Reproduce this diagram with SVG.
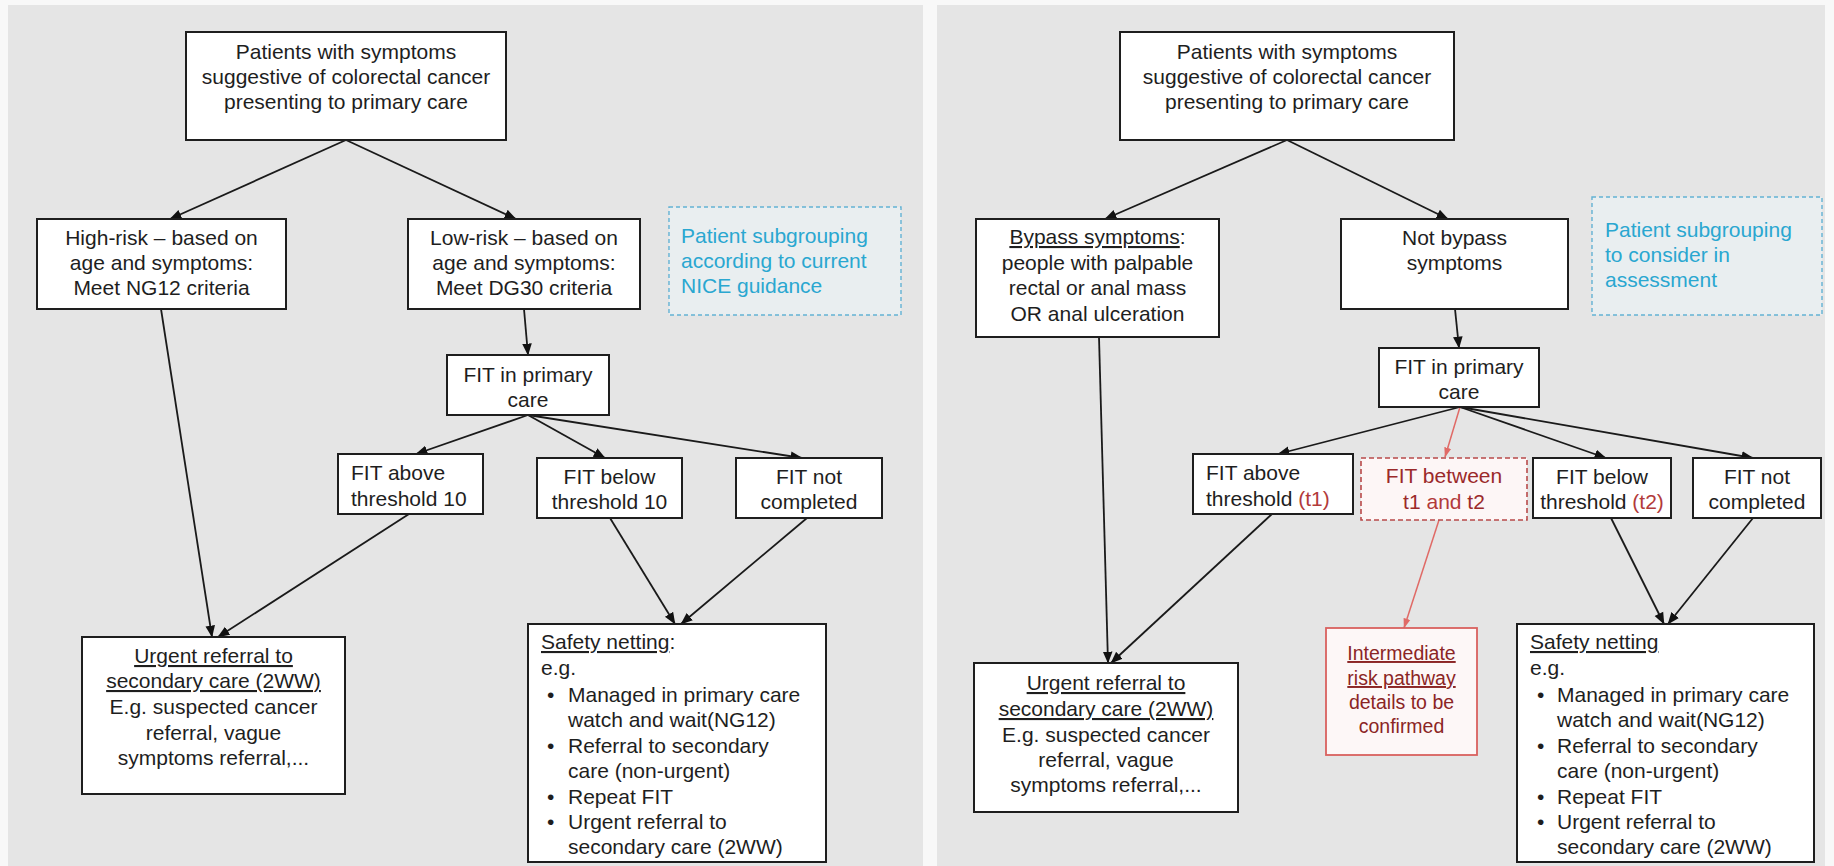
<svg xmlns="http://www.w3.org/2000/svg" width="1834" height="866" viewBox="0 0 1834 866">
  <style>
    text { font-family: "Liberation Sans", Arial, sans-serif; font-size: 21px; fill: #1e1e1e; }
    .c { text-anchor: middle; }
    .u { text-decoration: underline; }
    .box { fill: #ffffff; stroke: #1e1e1e; stroke-width: 2; }
    .note { fill: #e9eef0; stroke: #63b2d4; stroke-width: 1.4; stroke-dasharray: 4 3; }
    text.cy { fill: #2aa7d0; }
    .rbox { fill: #fdf6f6; stroke: #b84a4a; stroke-width: 1.6; stroke-dasharray: 5 3; }
    .ibox { fill: #fdf7f7; stroke: #d9605e; stroke-width: 1.8; }
    .red { fill: #9b2a2a; }
    .rt { fill: #b23a3a; }
    .ital { font-size: 19.5px; fill: #8b2525; }
    .link { fill: none; stroke: #1a1a1a; stroke-width: 1.8; marker-end: url(#ah); }
    .rlink { fill: none; stroke: #e06a66; stroke-width: 1.5; marker-end: url(#ahr); }
  </style>
  <defs>
    <marker id="ah" viewBox="0 0 10 10" refX="9.5" refY="5" markerWidth="12" markerHeight="12" markerUnits="userSpaceOnUse" orient="auto">
      <path d="M0,1 L10,5 L0,9 z" fill="#111111"/>
    </marker>
    <marker id="ahr" viewBox="0 0 10 10" refX="9.5" refY="5" markerWidth="10" markerHeight="10" markerUnits="userSpaceOnUse" orient="auto">
      <path d="M0,1.5 L10,5 L0,8.5 z" fill="#e06a66"/>
    </marker>
  </defs>

  <!-- page and the two panels -->
  <rect x="0" y="0" width="1834" height="866" fill="#f8f8f8"/>
  <rect id="panel-left" x="8" y="5" width="915" height="861" fill="#e5e5e5"/>
  <rect id="panel-right" x="937" y="5" width="888" height="861" fill="#e5e5e5"/>

  <!-- connectors -->
  <g id="connectors">
    <line class="link" x1="346" y1="140" x2="170" y2="219"/>
    <line class="link" x1="346" y1="140" x2="516" y2="219"/>
    <line class="link" x1="524" y1="309" x2="528" y2="355"/>
    <line class="link" x1="528" y1="415" x2="416" y2="454"/>
    <line class="link" x1="528" y1="415" x2="605" y2="458"/>
    <line class="link" x1="528" y1="415" x2="802" y2="458"/>
    <line class="link" x1="161" y1="309" x2="212" y2="637"/>
    <line class="link" x1="409" y1="514" x2="218" y2="637"/>
    <line class="link" x1="610" y1="518" x2="675" y2="624"/>
    <line class="link" x1="807" y1="518" x2="681" y2="624"/>

    <line class="link" x1="1287" y1="140" x2="1105" y2="219"/>
    <line class="link" x1="1287" y1="140" x2="1448" y2="219"/>
    <line class="link" x1="1455" y1="309" x2="1459" y2="348"/>
    <line class="link" x1="1460" y1="407" x2="1278" y2="454"/>
    <line class="rlink" x1="1460" y1="407" x2="1445" y2="457"/>
    <line class="link" x1="1460" y1="407" x2="1606" y2="458"/>
    <line class="link" x1="1460" y1="407" x2="1753" y2="458"/>
    <line class="link" x1="1099" y1="337" x2="1108" y2="663"/>
    <line class="link" x1="1272" y1="514" x2="1111" y2="663"/>
    <line class="rlink" x1="1439" y1="520" x2="1404" y2="628"/>
    <line class="link" x1="1611" y1="518" x2="1664" y2="624"/>
    <line class="link" x1="1753" y1="518" x2="1668" y2="624"/>
  </g>

  <!-- ===== left pathway ===== -->
  <g id="l-start">
    <rect class="box" x="186" y="32" width="320" height="108"/>
    <text class="c" x="346" y="59">Patients with symptoms</text>
    <text class="c" x="346" y="84">suggestive of colorectal cancer</text>
    <text class="c" x="346" y="109">presenting to primary care</text>
  </g>
  <g id="l-high-risk">
    <rect class="box" x="37" y="219" width="249" height="90"/>
    <text class="c" x="161.5" y="245">High-risk – based on</text>
    <text class="c" x="161.5" y="270">age and symptoms:</text>
    <text class="c" x="161.5" y="295">Meet NG12 criteria</text>
  </g>
  <g id="l-low-risk">
    <rect class="box" x="408" y="219" width="232" height="90"/>
    <text class="c" x="524" y="245">Low-risk – based on</text>
    <text class="c" x="524" y="270">age and symptoms:</text>
    <text class="c" x="524" y="295">Meet DG30 criteria</text>
  </g>
  <g id="l-note">
    <rect class="note" x="669" y="207" width="232" height="108"/>
    <text class="cy" x="681" y="243">Patient subgrouping</text>
    <text class="cy" x="681" y="268">according to current</text>
    <text class="cy" x="681" y="293">NICE guidance</text>
  </g>
  <g id="l-fit">
    <rect class="box" x="447" y="355" width="162" height="60"/>
    <text class="c" x="528" y="382">FIT in primary</text>
    <text class="c" x="528" y="407">care</text>
  </g>
  <g id="l-fit-above">
    <rect class="box" x="338" y="454" width="145" height="60"/>
    <text x="351" y="480">FIT above</text>
    <text x="351" y="506">threshold 10</text>
  </g>
  <g id="l-fit-below">
    <rect class="box" x="537" y="458" width="145" height="60"/>
    <text class="c" x="609.5" y="484">FIT below</text>
    <text class="c" x="609.5" y="509">threshold 10</text>
  </g>
  <g id="l-fit-not">
    <rect class="box" x="736" y="458" width="146" height="60"/>
    <text class="c" x="809" y="484">FIT not</text>
    <text class="c" x="809" y="509">completed</text>
  </g>
  <g id="l-urgent">
    <rect class="box" x="82" y="637" width="263" height="157"/>
    <text class="c u" x="213.5" y="663">Urgent referral to</text>
    <text class="c u" x="213.5" y="688">secondary care (2WW)</text>
    <text class="c" x="213.5" y="714">E.g. suspected cancer</text>
    <text class="c" x="213.5" y="740">referral, vague</text>
    <text class="c" x="213.5" y="765">symptoms referral,...</text>
  </g>
  <g id="l-safety">
    <rect class="box" x="528" y="624" width="298" height="238"/>
    <text x="541" y="649"><tspan class="u">Safety netting</tspan>:</text>
    <text x="541" y="675">e.g.</text>
    <text x="547" y="702">•</text>
    <text x="568" y="702">Managed in primary care</text>
    <text x="568" y="727">watch and wait(NG12)</text>
    <text x="547" y="753">•</text>
    <text x="568" y="753">Referral to secondary</text>
    <text x="568" y="778">care (non-urgent)</text>
    <text x="547" y="804">•</text>
    <text x="568" y="804">Repeat FIT</text>
    <text x="547" y="829">•</text>
    <text x="568" y="829">Urgent referral to</text>
    <text x="568" y="854">secondary care (2WW)</text>
  </g>

  <!-- ===== right pathway ===== -->
  <g id="r-start">
    <rect class="box" x="1120" y="32" width="334" height="108"/>
    <text class="c" x="1287" y="59">Patients with symptoms</text>
    <text class="c" x="1287" y="84">suggestive of colorectal cancer</text>
    <text class="c" x="1287" y="109">presenting to primary care</text>
  </g>
  <g id="r-bypass">
    <rect class="box" x="976" y="219" width="243" height="118"/>
    <text class="c" x="1097.5" y="244"><tspan class="u">Bypass symptoms</tspan>:</text>
    <text class="c" x="1097.5" y="270">people with palpable</text>
    <text class="c" x="1097.5" y="295">rectal or anal mass</text>
    <text class="c" x="1097.5" y="321">OR anal ulceration</text>
  </g>
  <g id="r-not-bypass">
    <rect class="box" x="1341" y="219" width="227" height="90"/>
    <text class="c" x="1454.5" y="245">Not bypass</text>
    <text class="c" x="1454.5" y="270">symptoms</text>
  </g>
  <g id="r-note">
    <rect class="note" x="1592" y="197" width="230" height="118"/>
    <text class="cy" x="1605" y="237">Patient subgrouping</text>
    <text class="cy" x="1605" y="262">to consider in</text>
    <text class="cy" x="1605" y="287">assessment</text>
  </g>
  <g id="r-fit">
    <rect class="box" x="1379" y="348" width="160" height="59"/>
    <text class="c" x="1459" y="374">FIT in primary</text>
    <text class="c" x="1459" y="399">care</text>
  </g>
  <g id="r-fit-above">
    <rect class="box" x="1193" y="454" width="160" height="60"/>
    <text x="1206" y="480">FIT above</text>
    <text x="1206" y="506">threshold <tspan class="rt">(t1)</tspan></text>
  </g>
  <g id="r-fit-between">
    <rect class="rbox" x="1361" y="458" width="166" height="62"/>
    <text class="c red" x="1444" y="483">FIT between</text>
    <text class="c red" x="1444" y="509">t1 <tspan class="rt">and</tspan> t2</text>
  </g>
  <g id="r-fit-below">
    <rect class="box" x="1533" y="458" width="138" height="60"/>
    <text class="c" x="1602" y="484">FIT below</text>
    <text class="c" x="1602" y="509">threshold <tspan class="rt">(t2)</tspan></text>
  </g>
  <g id="r-fit-not">
    <rect class="box" x="1693" y="458" width="128" height="60"/>
    <text class="c" x="1757" y="484">FIT not</text>
    <text class="c" x="1757" y="509">completed</text>
  </g>
  <g id="r-urgent">
    <rect class="box" x="974" y="663" width="264" height="149"/>
    <text class="c u" x="1106" y="690">Urgent referral to</text>
    <text class="c u" x="1106" y="716">secondary care (2WW)</text>
    <text class="c" x="1106" y="742">E.g. suspected cancer</text>
    <text class="c" x="1106" y="767">referral, vague</text>
    <text class="c" x="1106" y="792">symptoms referral,...</text>
  </g>
  <g id="r-intermediate">
    <rect class="ibox" x="1326" y="628" width="151" height="127"/>
    <text class="c ital u" x="1401.5" y="660">Intermediate</text>
    <text class="c ital u" x="1401.5" y="685">risk pathway</text>
    <text class="c ital" x="1401.5" y="709">details to be</text>
    <text class="c ital" x="1401.5" y="733">confirmed</text>
  </g>
  <g id="r-safety">
    <rect class="box" x="1517" y="624" width="297" height="238"/>
    <text x="1530" y="649" class="u">Safety netting</text>
    <text x="1530" y="675">e.g.</text>
    <text x="1537" y="702">•</text>
    <text x="1557" y="702">Managed in primary care</text>
    <text x="1557" y="727">watch and wait(NG12)</text>
    <text x="1537" y="753">•</text>
    <text x="1557" y="753">Referral to secondary</text>
    <text x="1557" y="778">care (non-urgent)</text>
    <text x="1537" y="804">•</text>
    <text x="1557" y="804">Repeat FIT</text>
    <text x="1537" y="829">•</text>
    <text x="1557" y="829">Urgent referral to</text>
    <text x="1557" y="854">secondary care (2WW)</text>
  </g>
</svg>
